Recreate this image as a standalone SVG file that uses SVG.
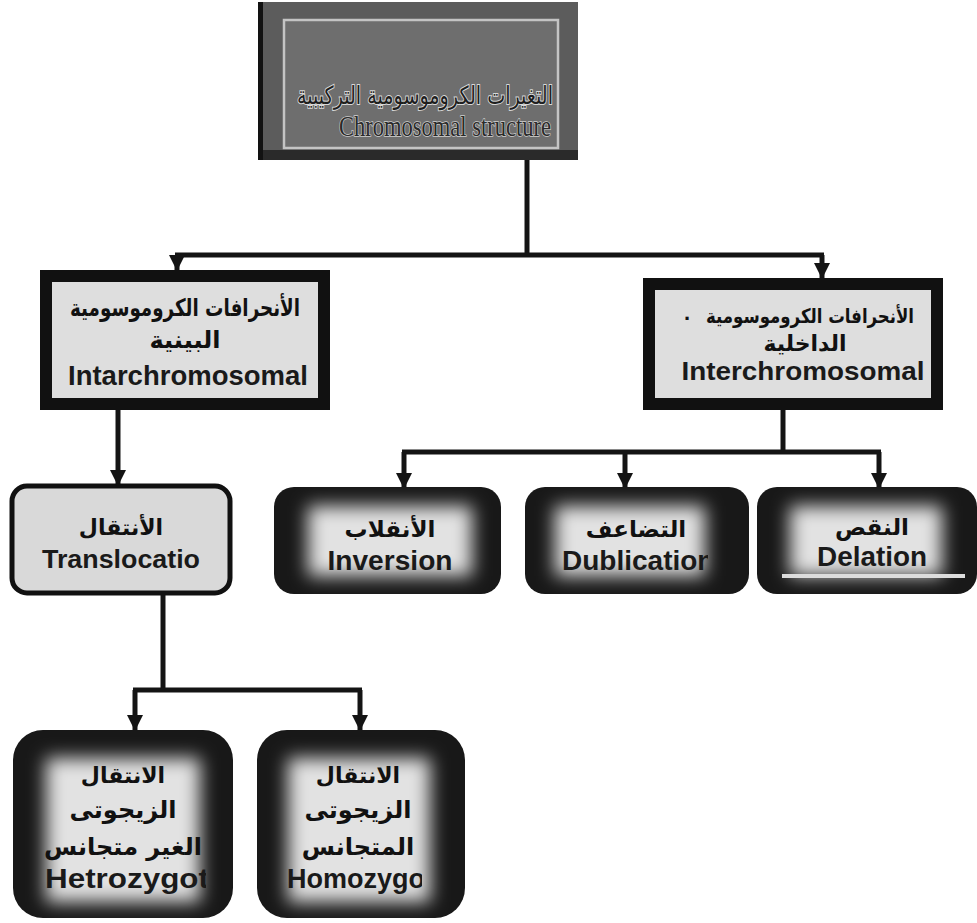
<svg xmlns="http://www.w3.org/2000/svg" width="977" height="923" viewBox="0 0 977 923">
<style>
.ar{font-family:"DejaVu Sans",sans-serif;font-weight:bold;text-anchor:middle;fill:#111}
.en{font-family:"Liberation Sans",Arial,sans-serif;font-weight:bold;text-anchor:middle;fill:#1a1a1a}
.enl{font-family:"Liberation Sans",Arial,sans-serif;font-weight:bold;fill:#1a1a1a}
.conn{fill:none;stroke:#141414;stroke-width:5}
.dark{fill:#181818}
.glow{fill:#e2e2e2}
.boxthick{fill:#dedede;stroke:#111;stroke-width:12}
</style>
<defs>
<marker id="ah" markerWidth="16" markerHeight="18" refX="15" refY="8" orient="auto" markerUnits="userSpaceOnUse">
<path d="M0,0 L16,8 L0,16 z" fill="#141414"/>
</marker>
<filter id="blur" x="-30%" y="-30%" width="160%" height="160%">
<feGaussianBlur stdDeviation="9"/>
</filter>
<clipPath id="cDub"><rect x="520" y="540" width="188" height="40"/></clipPath>
<clipPath id="cHet"><rect x="10" y="860" width="196" height="40"/></clipPath>
<clipPath id="cHom"><rect x="260" y="860" width="162" height="40"/></clipPath>
</defs>
<rect width="977" height="923" fill="#ffffff"/>

<g id="top">
<rect x="258" y="2" width="320" height="158" fill="#5c5c5c"/>
<rect x="258" y="2" width="5" height="158" fill="#121212"/>
<rect x="284" y="20" width="274" height="128" fill="#6e6e6e" stroke="#c4c4c4" stroke-width="2.5"/>
<rect x="263" y="150" width="315" height="10" fill="#2a2a2a"/>
<text x="425" y="104" font-family="DejaVu Sans,sans-serif" font-size="25" text-anchor="middle" fill="#1e1e1e" stroke="#d8d8d8" stroke-width="2" paint-order="stroke" textLength="256" lengthAdjust="spacingAndGlyphs">التغيرات الكروموسومية التركيبية</text>
<text x="445" y="136" font-family="Liberation Serif,serif" font-size="30" text-anchor="middle" fill="#2a2a2a" stroke="#d0d0d0" stroke-width="1.5" paint-order="stroke" textLength="212" lengthAdjust="spacingAndGlyphs">Chromosomal structure</text>
</g>

<g id="connectors">
<path class="conn" d="M527,160 V255"/>
<path class="conn" d="M175,255 H824"/>
<path class="conn" d="M177,255 V270" marker-end="url(#ah)"/>
<path class="conn" d="M822,255 V278" marker-end="url(#ah)"/>
<path class="conn" d="M118,410 V485" marker-end="url(#ah)"/>
<path class="conn" d="M783,410 V452"/>
<path class="conn" d="M402,452 H881"/>
<path class="conn" d="M404,452 V488" marker-end="url(#ah)"/>
<path class="conn" d="M625,452 V488" marker-end="url(#ah)"/>
<path class="conn" d="M879,452 V488" marker-end="url(#ah)"/>
<path class="conn" d="M163,595 V690"/>
<path class="conn" d="M133,690 H362"/>
<path class="conn" d="M135,690 V730" marker-end="url(#ah)"/>
<path class="conn" d="M360,690 V730" marker-end="url(#ah)"/>
</g>

<g id="intra">
<rect class="boxthick" x="46" y="276" width="278" height="128"/>
<text class="ar" x="185" y="316" font-size="24" textLength="230" lengthAdjust="spacingAndGlyphs">الأنحرافات الكروموسومية</text>
<text class="ar" x="185" y="348" font-size="24">البينية</text>
<text class="en" x="188" y="385" font-size="27" textLength="240" lengthAdjust="spacingAndGlyphs">Intarchromosomal</text>
</g>

<g id="inter">
<rect class="boxthick" x="649" y="284" width="288" height="120"/>
<text x="684" y="320" font-family="Liberation Sans,Arial,sans-serif" font-weight="bold" font-size="22" fill="#111">.</text>
<text class="ar" x="810" y="323" font-size="20" textLength="208" lengthAdjust="spacingAndGlyphs">الأنحرافات الكروموسومية</text>
<text class="ar" x="805" y="351" font-size="22">الداخلية</text>
<text class="en" x="803" y="380" font-size="26" textLength="243" lengthAdjust="spacingAndGlyphs">Interchromosomal</text>
</g>

<g id="translocation">
<rect x="12" y="486" width="218" height="107" rx="15" fill="#d9d9d9" stroke="#111" stroke-width="5"/>
<text class="ar" x="121" y="535" font-size="22">الأنتقال</text>
<text class="en" x="121" y="568" font-size="25" textLength="158" lengthAdjust="spacingAndGlyphs">Translocatio</text>
</g>

<g id="inversion">
<rect class="dark" x="274" y="487" width="227" height="107" rx="20"/>
<rect class="glow" x="308" y="506" width="164" height="70" filter="url(#blur)"/>
<text class="ar" x="390" y="537" font-size="23">الأنقلاب</text>
<text class="en" x="390" y="570" font-size="28" textLength="125" lengthAdjust="spacingAndGlyphs">Inversion</text>
</g>

<g id="dublication">
<rect class="dark" x="525" y="487" width="224" height="107" rx="20"/>
<rect class="glow" x="555" y="506" width="150" height="70" filter="url(#blur)"/>
<text class="ar" x="636" y="537" font-size="23">التضاعف</text>
<text class="enl" x="562" y="570" font-size="28" clip-path="url(#cDub)">Dublication</text>
</g>

<g id="delation">
<rect class="dark" x="757" y="487" width="220" height="107" rx="20"/>
<rect class="glow" x="790" y="506" width="152" height="70" filter="url(#blur)"/>
<text class="ar" x="872" y="535" font-size="23">النقص</text>
<text class="en" x="872" y="566" font-size="28" textLength="110" lengthAdjust="spacingAndGlyphs">Delation</text>
<rect x="782" y="574" width="183" height="4" fill="#dcdcdc"/>
</g>

<g id="hetero">
<rect class="dark" x="13" y="730" width="220" height="188" rx="30"/>
<rect class="glow" x="46" y="758" width="154" height="144" filter="url(#blur)"/>
<text class="ar" x="123" y="783" font-size="22">الانتقال</text>
<text class="ar" x="123" y="818" font-size="24">الزيجوتى</text>
<text class="ar" x="123" y="855" font-size="24">الغير متجانس</text>
<text class="enl" x="45" y="888" font-size="27" textLength="164" lengthAdjust="spacingAndGlyphs" clip-path="url(#cHet)">Hetrozygot</text>
</g>

<g id="homo">
<rect class="dark" x="257" y="730" width="208" height="188" rx="30"/>
<rect class="glow" x="288" y="758" width="142" height="144" filter="url(#blur)"/>
<text class="ar" x="358" y="783" font-size="22">الانتقال</text>
<text class="ar" x="358" y="818" font-size="24">الزيجوتى</text>
<text class="ar" x="358" y="855" font-size="24">المتجانس</text>
<text class="enl" x="287" y="888" font-size="27" clip-path="url(#cHom)">Homozygot</text>
</g>
</svg>
